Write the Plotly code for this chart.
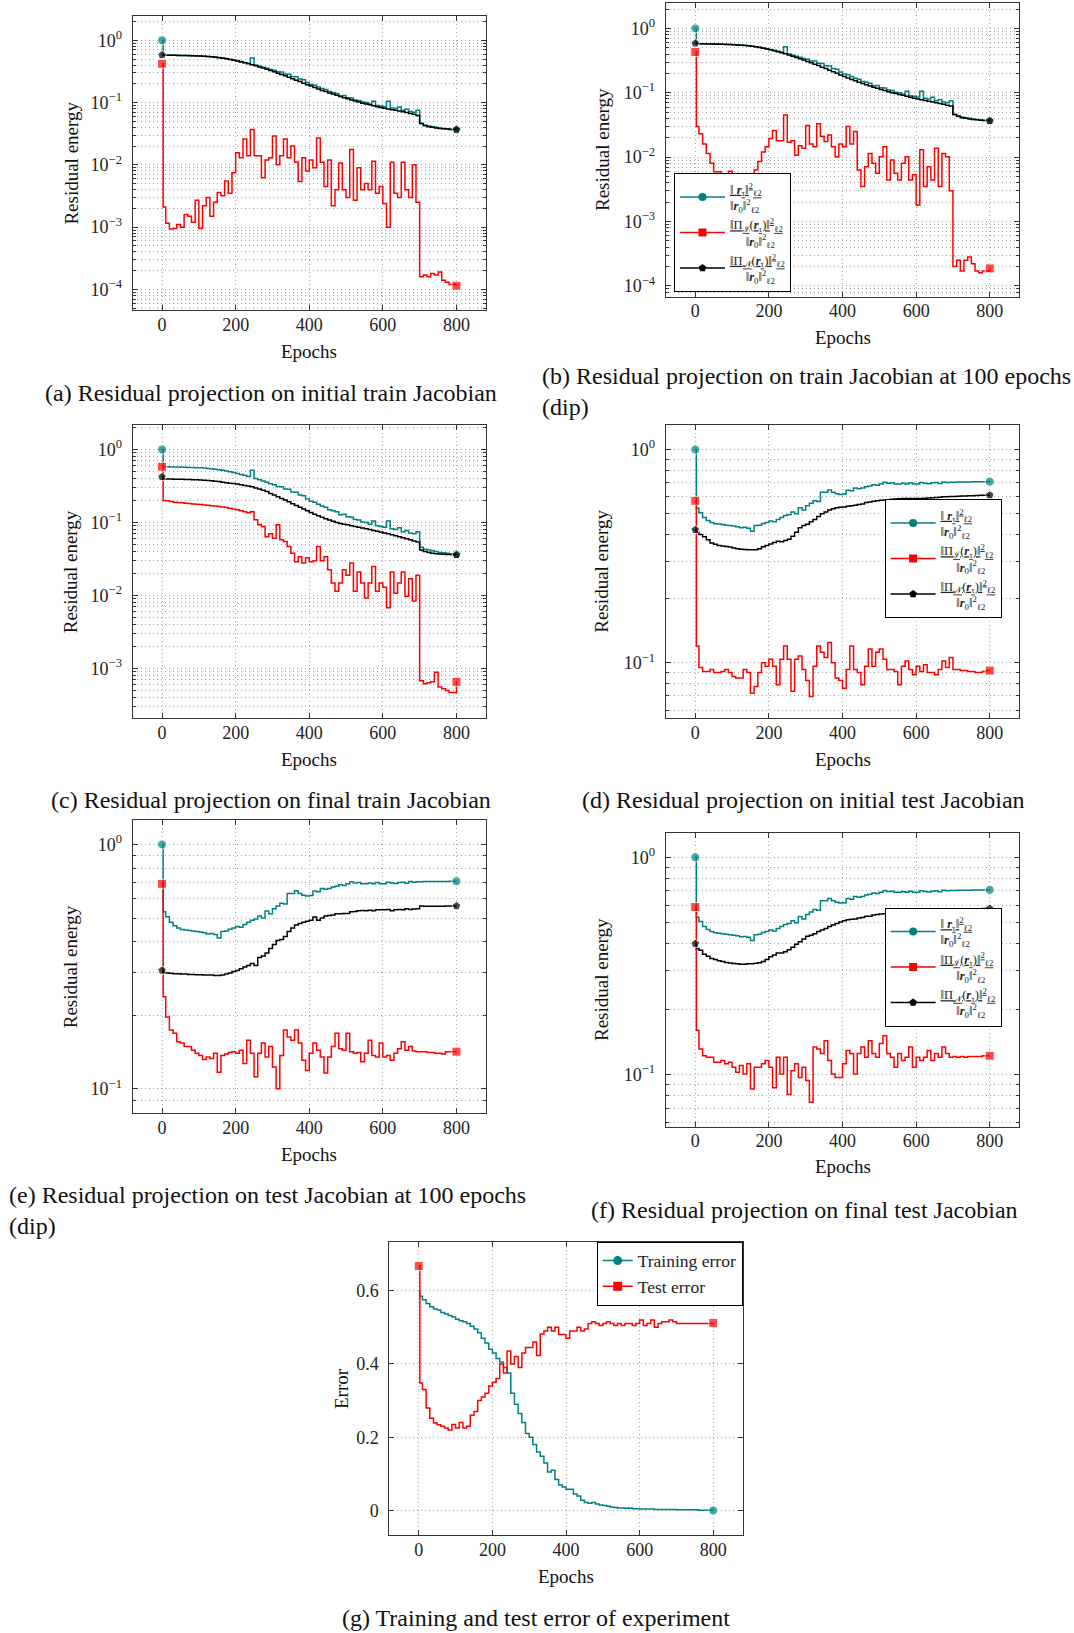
import plotly.graph_objects as go

# ---------------- data ----------------
EPOCHS = [0, 3, 10, 20, 30, 40, 50, 60, 70, 80,
          90, 100, 110, 120, 130, 140, 150, 160, 170, 180,
          190, 200, 210, 220, 230, 240, 250, 260, 270, 280,
          290, 300, 310, 320, 330, 340, 350, 360, 370, 380,
          390, 400, 410, 420, 430, 440, 450, 460, 470, 480,
          490, 500, 510, 520, 530, 540, 550, 560, 570, 580,
          590, 600, 610, 620, 630, 640, 650, 660, 670, 680,
          690, 700, 710, 720, 730, 740, 750, 760, 770, 780,
          790, 800]

# ||r_tau||^2/||r_0||^2 on the training set (panels a, b, c)
TRAIN_RES = [1.0, 0.58, 0.578, 0.576, 0.575, 0.574, 0.572, 0.570, 0.568, 0.566,
             0.563, 0.560, 0.556, 0.551, 0.545, 0.538, 0.529, 0.519, 0.508, 0.496,
             0.483, 0.470, 0.456, 0.442, 0.428, 0.52, 0.40, 0.385, 0.37, 0.355,
             0.34, 0.33, 0.312, 0.31, 0.288, 0.285, 0.262, 0.26, 0.238, 0.232,
             0.21, 0.195, 0.19, 0.178, 0.168, 0.162, 0.15, 0.145, 0.14, 0.128,
             0.13, 0.12, 0.118, 0.11, 0.108, 0.102, 0.1, 0.095, 0.105, 0.09,
             0.088, 0.086, 0.105, 0.082, 0.08, 0.085, 0.075, 0.078, 0.072, 0.07,
             0.075, 0.046, 0.043, 0.042, 0.041, 0.040, 0.039, 0.0385, 0.038, 0.0375,
             0.037, 0.0368]

RED_A = [0.42, 0.0021, 0.00116, 0.00093, 0.00095, 0.0011, 0.001, 0.0016, 0.0015, 0.0012,
         0.0027, 0.00095, 0.0022, 0.003, 0.0015, 0.0025, 0.0036, 0.0032, 0.0055, 0.0035,
         0.0075, 0.0156, 0.013, 0.026, 0.014, 0.037, 0.014, 0.014, 0.0062, 0.012,
         0.013, 0.029, 0.010, 0.014, 0.026, 0.013, 0.02, 0.011, 0.0054, 0.013,
         0.008, 0.012, 0.009, 0.027, 0.011, 0.0045, 0.012, 0.0022, 0.004, 0.0107,
         0.004, 0.003, 0.0177, 0.0027, 0.009, 0.004, 0.005, 0.004, 0.0114, 0.0035,
         0.0045, 0.0024, 0.001, 0.011, 0.0035, 0.003, 0.011, 0.004, 0.003, 0.01,
         0.0025, 0.00016, 0.00017, 0.00016, 0.00018, 0.00017, 0.00019, 0.00014, 0.00013, 0.00012,
         0.00012, 0.000115]

BLACK_A = [0.58, 0.577, 0.575, 0.574, 0.573, 0.572, 0.570, 0.568, 0.566, 0.563,
           0.560, 0.557, 0.553, 0.548, 0.542, 0.535, 0.526, 0.516, 0.505, 0.492,
           0.478, 0.464, 0.450, 0.436, 0.421, 0.405, 0.390, 0.374, 0.358, 0.342,
           0.327, 0.312, 0.297, 0.283, 0.269, 0.255, 0.242, 0.229, 0.217, 0.205,
           0.194, 0.184, 0.174, 0.165, 0.157, 0.150, 0.143, 0.137, 0.131, 0.125,
           0.120, 0.115, 0.110, 0.106, 0.102, 0.098, 0.095, 0.092, 0.089, 0.086,
           0.083, 0.081, 0.079, 0.077, 0.075, 0.073, 0.071, 0.069, 0.067, 0.065,
           0.062, 0.046, 0.043, 0.041, 0.040, 0.039, 0.0385, 0.038, 0.0375, 0.037,
           0.037, 0.0368]

RED_B = [0.43, 0.03, 0.023, 0.016, 0.0114, 0.008, 0.0059, 0.0059, 0.005, 0.0044,
         0.006, 0.0029, 0.0042, 0.003, 0.004, 0.005, 0.0052, 0.0063, 0.0085, 0.012,
         0.0145, 0.0195, 0.026, 0.018, 0.018, 0.045, 0.017, 0.018, 0.0107, 0.015,
         0.0137, 0.031, 0.016, 0.0145, 0.033, 0.021, 0.0175, 0.022, 0.0145, 0.0101,
         0.016, 0.0145, 0.03, 0.016, 0.025, 0.0063, 0.0035, 0.0071, 0.0114, 0.008,
         0.0056, 0.0101, 0.0145, 0.0044, 0.009, 0.0056, 0.0044, 0.008, 0.0101, 0.0044,
         0.0053, 0.0018, 0.013, 0.0035, 0.0071, 0.0044, 0.0137, 0.0035, 0.0114, 0.0101,
         0.003, 0.0002, 0.00025, 0.00017, 0.00025, 0.00028, 0.00022, 0.00017, 0.00016, 0.00017,
         0.00017, 0.000186]

BLACK_B = [0.585, 0.578, 0.576, 0.575, 0.574, 0.573, 0.571, 0.569, 0.567, 0.564,
           0.561, 0.558, 0.554, 0.549, 0.543, 0.536, 0.527, 0.517, 0.506, 0.493,
           0.479, 0.465, 0.450, 0.435, 0.419, 0.403, 0.387, 0.370, 0.354, 0.338,
           0.322, 0.307, 0.292, 0.278, 0.264, 0.250, 0.237, 0.224, 0.212, 0.200,
           0.189, 0.179, 0.170, 0.161, 0.153, 0.146, 0.139, 0.133, 0.127, 0.122,
           0.117, 0.112, 0.108, 0.104, 0.100, 0.097, 0.094, 0.091, 0.088, 0.085,
           0.082, 0.080, 0.078, 0.076, 0.074, 0.072, 0.070, 0.068, 0.066, 0.064,
           0.062, 0.046, 0.043, 0.041, 0.040, 0.039, 0.0385, 0.038, 0.0375, 0.037,
           0.0368, 0.0365]

RED_C = [0.58, 0.2, 0.198, 0.194, 0.19, 0.188, 0.186, 0.184, 0.182, 0.18,
         0.178, 0.176, 0.174, 0.172, 0.17, 0.168, 0.166, 0.163, 0.16, 0.157,
         0.153, 0.149, 0.145, 0.14, 0.136, 0.14, 0.109, 0.093, 0.088, 0.064,
         0.07, 0.061, 0.093, 0.058, 0.055, 0.047, 0.038, 0.029, 0.034, 0.028,
         0.033, 0.029, 0.03, 0.047, 0.03, 0.034, 0.0226, 0.0149, 0.0115, 0.0149,
         0.0226, 0.019, 0.028, 0.0115, 0.021, 0.0149, 0.0093, 0.0149, 0.025, 0.0115,
         0.0149, 0.013, 0.0068, 0.021, 0.0108, 0.0149, 0.021, 0.0098, 0.017, 0.0084,
         0.019, 0.00068, 0.00062, 0.00064, 0.00066, 0.00089, 0.00056, 0.00053, 0.0005, 0.00047,
         0.00047, 0.00066]

BLACK_C = [0.42, 0.395, 0.394, 0.393, 0.392, 0.391, 0.39, 0.389, 0.388, 0.386,
           0.384, 0.382, 0.379, 0.376, 0.372, 0.368, 0.363, 0.357, 0.351, 0.345,
           0.342, 0.337, 0.33, 0.322, 0.315, 0.308, 0.298, 0.287, 0.276, 0.265,
           0.25, 0.238, 0.226, 0.214, 0.203, 0.192, 0.181, 0.171, 0.162, 0.153,
           0.145, 0.137, 0.13, 0.124, 0.118, 0.113, 0.108, 0.104, 0.1, 0.097,
           0.095, 0.093, 0.09, 0.088, 0.086, 0.084, 0.082, 0.08, 0.078, 0.076,
           0.074, 0.072, 0.07, 0.068, 0.066, 0.064, 0.062, 0.06, 0.058, 0.056,
           0.054, 0.042, 0.04, 0.039, 0.038, 0.0375, 0.037, 0.0368, 0.0366, 0.0364,
           0.0362, 0.036]

# ||r_tau||^2/||r_0||^2 on the test set (panels d, e, f)
TEST_RES = [1.0, 0.53, 0.506, 0.48, 0.465, 0.455, 0.449, 0.447, 0.445, 0.442,
            0.44, 0.438, 0.435, 0.43, 0.432, 0.428, 0.414, 0.44, 0.442, 0.45,
            0.455, 0.462, 0.458, 0.47, 0.48, 0.49, 0.495, 0.51, 0.5, 0.534,
            0.52, 0.545, 0.56, 0.575, 0.57, 0.63, 0.63, 0.646, 0.63, 0.62,
            0.615, 0.618, 0.645, 0.64, 0.66, 0.655, 0.66, 0.67, 0.675, 0.684,
            0.68, 0.69, 0.703, 0.695, 0.698, 0.69, 0.69, 0.695, 0.69, 0.698,
            0.69, 0.69, 0.7, 0.695, 0.692, 0.698, 0.7, 0.693, 0.705, 0.70,
            0.703, 0.703, 0.705, 0.705, 0.705, 0.705, 0.706, 0.706, 0.706, 0.707,
            0.707, 0.707]

RED_D = [0.575, 0.12, 0.095, 0.091, 0.091, 0.093, 0.09, 0.09, 0.091, 0.093,
         0.09, 0.0864, 0.085, 0.085, 0.093, 0.09, 0.072, 0.0775, 0.09, 0.1,
         0.0965, 0.104, 0.0965, 0.079, 0.104, 0.12, 0.104, 0.0735, 0.104, 0.1076,
         0.093, 0.0827, 0.0696, 0.0965, 0.12, 0.112, 0.106, 0.1245, 0.1, 0.085,
         0.0827, 0.076, 0.093, 0.12, 0.093, 0.09, 0.079, 0.0965, 0.116, 0.0965,
         0.112, 0.116, 0.104, 0.093, 0.093, 0.091, 0.079, 0.0965, 0.102, 0.093,
         0.088, 0.0965, 0.091, 0.098, 0.09, 0.09, 0.088, 0.093, 0.102, 0.095,
         0.106, 0.093, 0.093, 0.092, 0.092, 0.091, 0.091, 0.09, 0.09, 0.091,
         0.092, 0.092]

BLACK_D = [0.42, 0.41, 0.40, 0.39, 0.378, 0.365, 0.36, 0.355, 0.353, 0.351,
           0.349, 0.345, 0.343, 0.341, 0.34, 0.339, 0.339, 0.339, 0.343, 0.35,
           0.355, 0.361, 0.367, 0.372, 0.37, 0.375, 0.38, 0.392, 0.41, 0.43,
           0.44, 0.446, 0.458, 0.47, 0.485, 0.5, 0.51, 0.52, 0.527, 0.534,
           0.536, 0.538, 0.542, 0.545, 0.548, 0.552, 0.556, 0.565, 0.568, 0.572,
           0.575, 0.579, 0.58, 0.582, 0.584, 0.586, 0.588, 0.589, 0.59, 0.59,
           0.59, 0.59, 0.589, 0.591, 0.592, 0.594, 0.596, 0.598, 0.6, 0.601,
           0.602, 0.603, 0.604, 0.605, 0.606, 0.607, 0.608, 0.609, 0.61, 0.61,
           0.611, 0.611]

RED_E = [0.69, 0.238, 0.197, 0.174, 0.169, 0.156, 0.154, 0.149, 0.149, 0.144,
         0.14, 0.137, 0.132, 0.135, 0.133, 0.14, 0.117, 0.137, 0.139, 0.141,
         0.142, 0.14, 0.144, 0.127, 0.158, 0.14, 0.112, 0.14, 0.154, 0.135,
         0.149, 0.123, 0.1, 0.137, 0.174, 0.163, 0.158, 0.174, 0.154, 0.131,
         0.119, 0.14, 0.154, 0.144, 0.135, 0.116, 0.135, 0.149, 0.169, 0.146,
         0.144, 0.169, 0.142, 0.14, 0.141, 0.129, 0.14, 0.158, 0.137, 0.135,
         0.154, 0.135, 0.137, 0.131, 0.14, 0.146, 0.156, 0.144, 0.149, 0.143,
         0.142, 0.142, 0.142, 0.141, 0.141, 0.14, 0.14, 0.139, 0.142, 0.142,
         0.142, 0.142]

BLACK_E = [0.305, 0.30, 0.298, 0.297, 0.296, 0.296, 0.295, 0.295, 0.294, 0.294,
           0.293, 0.293, 0.292, 0.292, 0.292, 0.291, 0.291, 0.292, 0.295, 0.298,
           0.302, 0.305, 0.31, 0.315, 0.32, 0.326, 0.32, 0.345, 0.35, 0.36,
           0.375, 0.39, 0.405, 0.408, 0.42, 0.44, 0.455, 0.468, 0.475, 0.48,
           0.485, 0.49, 0.505, 0.49, 0.5, 0.51, 0.512, 0.515, 0.52, 0.52,
           0.522, 0.522, 0.53, 0.532, 0.535, 0.537, 0.535, 0.538, 0.535, 0.54,
           0.54, 0.54, 0.542, 0.535, 0.54, 0.542, 0.54, 0.545, 0.542, 0.544,
           0.545, 0.56, 0.558, 0.558, 0.558, 0.558, 0.558, 0.559, 0.56, 0.56,
           0.56, 0.56]

RED_F = [0.59, 0.16, 0.131, 0.122, 0.12, 0.12, 0.114, 0.114, 0.116, 0.112,
         0.114, 0.108, 0.1025, 0.11, 0.1007, 0.112, 0.0859, 0.108, 0.108, 0.112,
         0.116, 0.108, 0.087, 0.12, 0.1007, 0.12, 0.081, 0.104, 0.112, 0.097,
         0.108, 0.094, 0.0745, 0.134, 0.131, 0.125, 0.143, 0.116, 0.1007, 0.097,
         0.097, 0.112, 0.129, 0.125, 0.1007, 0.125, 0.134, 0.12, 0.143, 0.125,
         0.12, 0.139, 0.151, 0.125, 0.12, 0.108, 0.125, 0.116, 0.12, 0.134,
         0.108, 0.12, 0.116, 0.12, 0.129, 0.116, 0.125, 0.12, 0.134, 0.125,
         0.12, 0.121, 0.12, 0.121, 0.12, 0.121, 0.121, 0.121, 0.121, 0.122,
         0.122, 0.122]

BLACK_F = [0.40, 0.38, 0.373, 0.358, 0.35, 0.342, 0.338, 0.334, 0.331, 0.328,
           0.326, 0.324, 0.323, 0.322, 0.322, 0.323, 0.323, 0.325, 0.327, 0.331,
           0.338, 0.348, 0.355, 0.362, 0.362, 0.367, 0.375, 0.385, 0.398, 0.408,
           0.42, 0.433, 0.438, 0.445, 0.455, 0.462, 0.47, 0.48, 0.488, 0.496,
           0.503, 0.51, 0.515, 0.518, 0.52, 0.525, 0.528, 0.535, 0.535, 0.542,
           0.545, 0.548, 0.55, 0.552, 0.552, 0.555, 0.555, 0.557, 0.558, 0.558,
           0.56, 0.56, 0.562, 0.563, 0.565, 0.566, 0.567, 0.568, 0.569, 0.57,
           0.571, 0.575, 0.576, 0.577, 0.577, 0.578, 0.578, 0.579, 0.579, 0.58,
           0.58, 0.58]

TRAIN_ERR = [0.597, 0.585, 0.575, 0.565, 0.556, 0.55, 0.547, 0.54, 0.536, 0.532,
             0.528, 0.522, 0.518, 0.515, 0.51, 0.503, 0.495, 0.485, 0.47, 0.457,
             0.44, 0.43, 0.415, 0.405, 0.39, 0.375, 0.32, 0.29, 0.265, 0.24,
             0.21, 0.2, 0.18, 0.16, 0.148, 0.13, 0.105, 0.11, 0.085, 0.07,
             0.064, 0.058, 0.058, 0.045, 0.04, 0.028, 0.022, 0.02, 0.022, 0.018,
             0.015, 0.014, 0.012, 0.01, 0.008, 0.007, 0.007, 0.006, 0.007, 0.005,
             0.005, 0.004, 0.004, 0.004, 0.004, 0.003, 0.003, 0.003, 0.003, 0.003,
             0.003, 0.002, 0.002, 0.002, 0.002, 0.002, 0.002, 0.001, 0.001, 0.001,
             0.001, 0.0]

TEST_ERR = [0.667, 0.348, 0.33, 0.28, 0.252, 0.239, 0.234, 0.23, 0.225, 0.22,
            0.235, 0.225, 0.24, 0.225, 0.23, 0.26, 0.27, 0.3, 0.31, 0.32,
            0.34, 0.35, 0.36, 0.40, 0.375, 0.435, 0.40, 0.42, 0.39, 0.43,
            0.445, 0.445, 0.46, 0.423, 0.482, 0.49, 0.5, 0.49, 0.5, 0.48,
            0.48, 0.47, 0.49, 0.49, 0.5, 0.49, 0.495, 0.51, 0.515, 0.51,
            0.505, 0.51, 0.515, 0.51, 0.505, 0.51, 0.505, 0.51, 0.51, 0.505,
            0.51, 0.52, 0.505, 0.51, 0.52, 0.5, 0.51, 0.515, 0.515, 0.52,
            0.515, 0.51, 0.51, 0.51, 0.51, 0.51, 0.51, 0.51, 0.51, 0.51,
            0.51, 0.512]

X_TICKS = [0, 200, 400, 600, 800]
ERR_TICKS = [0, 0.2, 0.4, 0.6]
ERR_TICK_TEXT = ["0", "0.2", "0.4", "0.6"]

CAPTIONS = {
    "a": "(a) Residual projection on initial train Jacobian",
    "b": "(b) Residual projection on train Jacobian at 100 epochs<br>(dip)",
    "c": "(c) Residual projection on final train Jacobian",
    "d": "(d) Residual projection on initial test Jacobian",
    "e": "(e) Residual projection on test Jacobian at 100 epochs<br>(dip)",
    "f": "(f) Residual projection on final test Jacobian",
    "g": "(g) Training and test error of experiment",
}

NBSP = "\u00a0"
LEG_RES = ("<span style='text-decoration:underline'>‖" + NBSP + "<b><i>r</i></b><sub>τ</sub>‖<sup>2</sup><sub>ℓ2</sub></span>"
           "<br>‖<b><i>r</i></b><sub>0</sub>‖<sup>2</sup><sub>ℓ2</sub>")
LEG_I = ("<span style='text-decoration:underline'>‖Π<sub>ℐ</sub>(<b><i>r</i></b><sub>τ</sub>)‖<sup>2</sup><sub>ℓ2</sub></span>"
         "<br>" + NBSP * 5 + "‖<b><i>r</i></b><sub>0</sub>‖<sup>2</sup><sub>ℓ2</sub>")
LEG_N = ("<span style='text-decoration:underline'>‖Π<sub>𝒩</sub>(<b><i>r</i></b><sub>τ</sub>)‖<sup>2</sup><sub>ℓ2</sub></span>"
         "<br>" + NBSP * 5 + "‖<b><i>r</i></b><sub>0</sub>‖<sup>2</sup><sub>ℓ2</sub>")

# ---------------- style ----------------
FONT = "Liberation Serif"
TEAL, RED, BLACK = "#008080", "#ff0000", "#000000"
GRID = "#a8a8a8"
GRID_DASH = "1px,3px"
AXC = "#333333"
W, H = 1074, 1633


def fx(p):
    return p / W


def fy(p):
    return 1 - p / H


# panel boxes in pixels: left, top, right, bottom
BOX = {
    "a": (132.6, 16, 485.9, 310),
    "b": (665.8, 3.3, 1019.2, 296.7),
    "c": (132.6, 425, 485.9, 718.3),
    "d": (665.8, 425, 1019.2, 718.3),
    "e": (132.6, 820, 485.9, 1113.3),
    "f": (665.8, 833.3, 1019.2, 1126.7),
    "g": (389.3, 1241.7, 742.7, 1535),
}
YR = {"a": (-4.33, 0.39), "b": (-4.17, 0.39), "c": (-3.68, 0.335),
      "d": (-1.26, 0.115), "e": (-1.1, 0.1), "f": (-1.24, 0.11)}
AXN = {"a": 1, "b": 2, "c": 3, "d": 4, "e": 5, "f": 6, "g": 7}
LEGEND_OF = {"b": "legend", "d": "legend2", "f": "legend3"}

SERIES = {
    "a": [(TRAIN_RES, TEAL, "circle", LEG_RES), (RED_A, RED, "square", LEG_I), (BLACK_A, BLACK, "pentagon", LEG_N)],
    "b": [(TRAIN_RES, TEAL, "circle", LEG_RES), (RED_B, RED, "square", LEG_I), (BLACK_B, BLACK, "pentagon", LEG_N)],
    "c": [(TRAIN_RES, TEAL, "circle", LEG_RES), (RED_C, RED, "square", LEG_I), (BLACK_C, BLACK, "pentagon", LEG_N)],
    "d": [(TEST_RES, TEAL, "circle", LEG_RES), (RED_D, RED, "square", LEG_I), (BLACK_D, BLACK, "pentagon", LEG_N)],
    "e": [(TEST_RES, TEAL, "circle", LEG_RES), (RED_E, RED, "square", LEG_I), (BLACK_E, BLACK, "pentagon", LEG_N)],
    "f": [(TEST_RES, TEAL, "circle", LEG_RES), (RED_F, RED, "square", LEG_I), (BLACK_F, BLACK, "pentagon", LEG_N)],
}

fig = go.Figure()
layout = dict(width=W, height=H, margin=dict(l=0, r=0, t=0, b=0), autosize=False,
              paper_bgcolor="white", plot_bgcolor="white",
              font=dict(family=FONT, color="#222"), annotations=[])

MS = 9
LW = 1.5


def marker_sizes(n, first=True):
    s = [0] * n
    if first:
        s[0] = MS
    s[-1] = MS
    return s


def base_axis(dom, anchor, standoff):
    return dict(domain=dom, anchor=anchor, showline=True, linecolor=AXC, linewidth=1.1,
                mirror="ticks", ticks="inside", ticklen=5, tickwidth=1, tickcolor=AXC,
                showgrid=True, gridcolor=GRID, griddash=GRID_DASH, gridwidth=1, zeroline=False,
                tickfont=dict(family=FONT, size=18, color="#222"), ticklabelstandoff=standoff)


def sup_label(d):
    return "10<sup>" + ("−" + str(-d) if d < 0 else str(d)) + "</sup>"


for key, (l, t, r, b) in BOX.items():
    n = AXN[key]
    xs = "x" if n == 1 else f"x{n}"
    ys = "y" if n == 1 else f"y{n}"
    xa = base_axis([fx(l), fx(r)], ys, -2)
    xa.update(range=[-80, 880], tickmode="array", tickvals=X_TICKS)
    ya = base_axis([fy(b), fy(t)], xs, 6)
    if key == "g":
        ya.update(range=[-0.0667, 0.7335], tickmode="array", tickvals=ERR_TICKS, ticktext=ERR_TICK_TEXT)
    else:
        lo, hi = YR[key]
        decs = list(range(int(-(-lo // 1)), int(hi // 1) + 1))
        minors = [m * 10.0 ** d for d in range(int(lo // 1), int(hi // 1) + 1) for m in range(2, 10)]
        ya.update(type="log", range=[lo, hi], tickmode="array",
                  tickvals=[10.0 ** d for d in decs], ticktext=[sup_label(d) for d in decs],
                  minor=dict(tickmode="array", tickvals=minors, ticks="inside", ticklen=3,
                             tickcolor=AXC, showgrid=True, gridcolor=GRID, griddash=GRID_DASH, gridwidth=1))
    layout["xaxis" if n == 1 else f"xaxis{n}"] = xa
    layout["yaxis" if n == 1 else f"yaxis{n}"] = ya

    # traces
    if key == "g":
        fig.add_trace(go.Scatter(x=EPOCHS, y=TRAIN_ERR, xaxis=xs, yaxis=ys, mode="lines+markers",
                                 line=dict(color=TEAL, width=LW, shape="hv"),
                                 marker=dict(symbol="circle", color=TEAL, size=marker_sizes(len(EPOCHS), False)),
                                 showlegend=False))
        fig.add_trace(go.Scatter(x=EPOCHS, y=TEST_ERR, xaxis=xs, yaxis=ys, mode="lines+markers",
                                 line=dict(color=RED, width=LW, shape="hv"),
                                 marker=dict(symbol="square", color=RED, size=marker_sizes(len(EPOCHS))),
                                 showlegend=False))
        for nm, col, sym in [("Training error", TEAL, "circle"), ("Test error", RED, "square")]:
            fig.add_trace(go.Scatter(x=[None], y=[None], xaxis=xs, yaxis=ys, mode="lines+markers",
                                     name=nm, line=dict(color=col, width=LW),
                                     marker=dict(symbol=sym, color=col, size=MS), legend="legend4"))
    else:
        for vals, col, sym, nm in SERIES[key]:
            fig.add_trace(go.Scatter(x=EPOCHS, y=vals, xaxis=xs, yaxis=ys, mode="lines+markers",
                                     line=dict(color=col, width=LW, shape="hv"),
                                     marker=dict(symbol=sym, color=col, size=marker_sizes(len(EPOCHS))),
                                     showlegend=False))
        if key in LEGEND_OF:
            for vals, col, sym, nm in SERIES[key]:
                fig.add_trace(go.Scatter(x=[None], y=[None], xaxis=xs, yaxis=ys, mode="lines+markers",
                                         name=nm, line=dict(color=col, width=LW),
                                         marker=dict(symbol=sym, color=col, size=MS - 1),
                                         legend=LEGEND_OF[key]))

# legends (anchored at their bottom-left corner as in the reference)
leg_common = dict(bgcolor="white", bordercolor="black", borderwidth=1, tracegroupgap=0,
                  xanchor="left", yanchor="bottom", itemclick=False, itemdoubleclick=False)
LEG_FONT = dict(family=FONT, size=12.5, color="#222")
layout["legend"] = dict(leg_common, x=fx(674), y=fy(292.3), font=LEG_FONT, itemwidth=45)
layout["legend2"] = dict(leg_common, x=fx(884.6), y=fy(618.3), font=LEG_FONT, itemwidth=45)
layout["legend3"] = dict(leg_common, x=fx(884.6), y=fy(1026.7), font=LEG_FONT, itemwidth=45)
layout["legend4"] = dict(leg_common, x=fx(742.7), y=fy(1241.7), xanchor="right", yanchor="top",
                         font=dict(family=FONT, size=17.5, color="#222"))

# axis titles and captions (pixel positions)
ann = layout["annotations"]


def add_text(txt, x, y, size, angle=0, xanchor="center", align="center"):
    ann.append(dict(text=txt, x=fx(x), y=fy(y), xref="paper", yref="paper", showarrow=False,
                    xanchor=xanchor, yanchor="middle", align=align, textangle=angle,
                    font=dict(family=FONT, size=size, color="#111")))


EPOCH_Y = {"a": 351, "b": 337.7, "c": 759.3, "d": 759.3, "e": 1154, "f": 1166.7, "g": 1576.7}
YLAB_X = {"a": 70.6, "b": 602, "c": 70.6, "d": 602, "e": 70.6, "f": 602, "g": 341.7}
for key, (l, t, r, b) in BOX.items():
    add_text("Epochs", (l + r) / 2, EPOCH_Y[key], 19)
    add_text("Error" if key == "g" else "Residual energy", YLAB_X[key], (t + b) / 2, 19, angle=-90)

CAP = 24
add_text(CAPTIONS["a"], 271, 393, CAP)
add_text(CAPTIONS["b"], 540.4, 391.5, CAP, xanchor="left", align="left")
add_text(CAPTIONS["c"], 271, 800, CAP)
add_text(CAPTIONS["d"], 803.5, 800, CAP)
add_text(CAPTIONS["e"], 6.9, 1210, CAP, xanchor="left", align="left")
add_text(CAPTIONS["f"], 804, 1210, CAP)
add_text(CAPTIONS["g"], 535.5, 1618, CAP)

fig.update_layout(**layout)
fig.write_html("out.html")
